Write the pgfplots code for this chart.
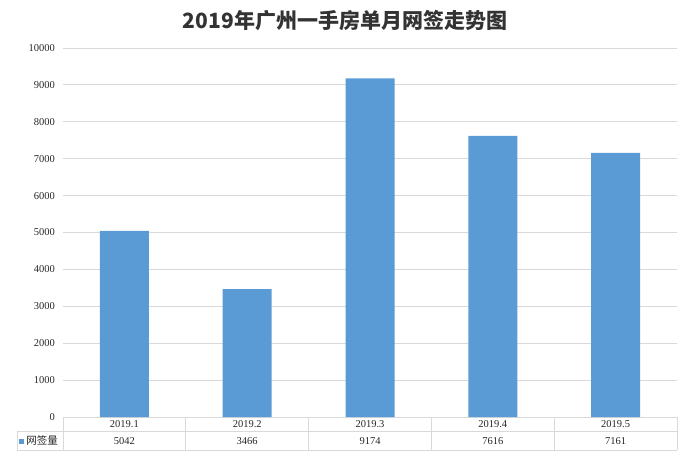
\documentclass[border=0pt]{standalone}
\usepackage{fontspec}
\usepackage{pgfplots}
\pgfplotsset{compat=1.18}
\setmainfont{Liberation Serif}
\newfontfamily\cjk{Noto Sans CJK SC}
\definecolor{barblue}{HTML}{5B9BD5}
\definecolor{gridgray}{HTML}{D9D9D9}
\definecolor{titlegray}{HTML}{333333}

\begin{document}
\begin{tikzpicture}
\useasboundingbox (-63pt,-36pt) rectangle (627pt,417pt);
\begin{axis}[
  scale only axis,
  width=614pt, height=369pt,
  xmin=-0.5, xmax=4.5,
  ymin=0, ymax=10000,
  ytick={0,1000,...,10000},
  xtick={0,1,2,3,4},
  xticklabels={2019.1\\5042, 2019.2\\3466, 2019.3\\9174, 2019.4\\7616, 2019.5\\7161},
  ymajorgrids,
  grid style={gridgray, line width=0.9pt},
  axis x line*=bottom,
  axis y line*=left,
  x axis line style={draw=gridgray, line width=0.9pt, -},
  y axis line style={draw=none},
  major tick length=0pt,
  scaled y ticks=false,
  /pgf/number format/.cd, 1000 sep={}, assume math mode=true,
  /pgfplots/.cd,
  yticklabel style={font=\fontsize{10.5}{12}\selectfont, color=black!85, anchor=east, inner sep=0pt, xshift=-8pt},
  xticklabel style={font=\fontsize{10.5}{16.5}\selectfont, color=black!85, align=center, anchor=north, inner sep=0pt, yshift=-3.5pt},
  title={\cjk\bfseries 2019年广州一手房单月网签走势图},
  title style={at={(0.5,1)}, anchor=center, xshift=-25pt, yshift=21pt, font=\fontsize{21}{25}\selectfont, color=titlegray},
  legend style={at={(0,0)}, anchor=east, xshift=-3pt, yshift=-24pt, draw=none, fill=none, inner sep=0pt,
    font=\cjk\fontsize{10.5}{12}\selectfont, color=black!85},
  legend image code/.code={\fill[barblue] (0pt,-2.5pt) rectangle (5pt,2.5pt);},
]
\addplot[ybar, bar width=49pt, fill=barblue, draw=none] coordinates {
  (0,5042) (1,3466) (2,9174) (3,7616) (4,7161)
};
\addlegendentry{网签量}
\end{axis}
% data table grid below the plot area
\begin{scope}[gridgray, line width=0.9pt]
  \draw (-46pt,-14pt) -- (614pt,-14pt);
  \draw (-46pt,-33pt) -- (614pt,-33pt);
  \draw (-46pt,-14pt) -- (-46pt,-33pt);
  \foreach \i in {0,1,...,5} {
    \draw ({\i*122.8pt},0pt) -- ({\i*122.8pt},-33pt);
  }
\end{scope}
\end{tikzpicture}
\end{document}
